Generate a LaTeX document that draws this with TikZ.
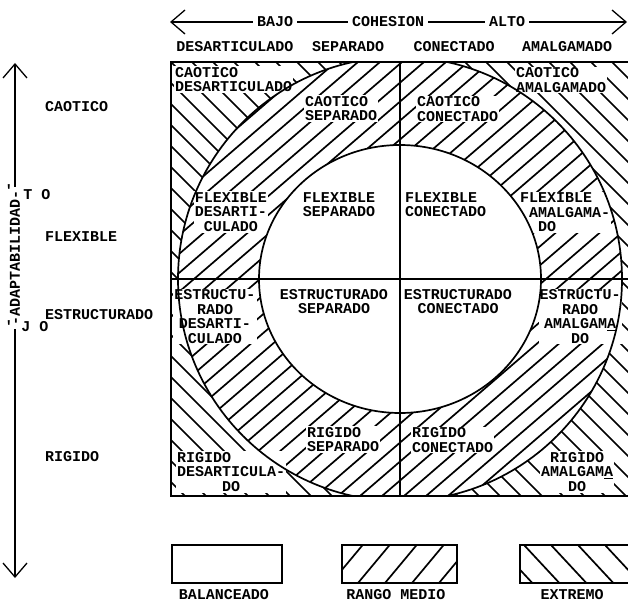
\documentclass[tikz,border=0pt]{standalone}
\usepackage{fontspec}
\newfontfamily\tw{Liberation Mono}
\usetikzlibrary{arrows.meta}
\begin{document}
\begin{tikzpicture}[x=1pt,y=-1pt,
  lbl/.style={font=\tw\bfseries\fontsize{15}{14.5}\selectfont, inner sep=1pt},
  wl/.style={lbl, fill=white},
  hatch/.style={line width=1.7pt},
  frame/.style={line width=1.7pt},
  barb/.style={line width=1.3pt, {Straight Barb[length=14pt,width=24pt]}-{Straight Barb[length=14pt,width=24pt]}}
  ]
\useasboundingbox (0,0) rectangle (628,604);

% ---- extreme region hatching (\)
\begin{scope}
  \clip (171,62) rectangle (629.5,496);
  \begin{scope}[even odd rule]
  \clip (171,62) rectangle (629.5,496) (400,279) circle[radius=222pt];
  \foreach \a in {-500,-479,...,700} \draw[hatch] (\a,0) -- ++(600,600);
  \end{scope}
\end{scope}
% ---- mid range hatching (/)
\begin{scope}
  \clip (171,62) rectangle (629.5,496);
  \begin{scope}[even odd rule]
  \clip (400,279) circle[radius=222pt] (400,279) ellipse[x radius=141pt, y radius=134pt];
  \foreach \a in {-400,-378,...,900} \draw[hatch] (\a,620) -- ++(720,-620);
  \end{scope}
\end{scope}

% ---- cell labels
\node[wl, align=left, anchor=west] (cd) at (174,79.5) {CAOTICO\\DESARTICULADO};
\node[wl, align=left, anchor=west] (cs) at (304,108.5) {CAOTICO\\SEPARADO};
\node[wl, align=left, anchor=west] (cc) at (416,109) {CAOTICO\\CONECTADO};
\node[wl, align=left, anchor=west] (ca) at (515,80) {CAOTICO\\AMALGAMADO};
\node[wl, align=center] (fd) at (231,212) {FLEXIBLE\\DESARTI-\\CULADO};
\node[lbl, align=center] (fs) at (339,204.5) {FLEXIBLE\\SEPARADO};
\node[lbl, align=left, anchor=west] (fc) at (404,204.5) {FLEXIBLE\\CONECTADO};
\node[wl, align=left, anchor=west] (fa) at (519,212.5) {FLEXIBLE\\~AMALGAMA-\\~~DO};
\node[wl, align=center] (ed) at (215,316.5) {ESTRUCTU-\\RADO\\DESARTI-\\CULADO};
\node[lbl, align=center] (es) at (334,301.5) {ESTRUCTURADO\\SEPARADO};
\node[lbl, align=center] (ec) at (458,301.5) {ESTRUCTURADO\\CONECTADO};
\node[wl, align=center] (ea) at (580,316.5) {ESTRUCTU-\\RADO\\AMALGAM\underline{A}\\DO};
\node[wl, align=left, anchor=west] (rd) at (176,472) {RIGIDO\\DESARTICULA-\\~~~~~DO};
\node[wl, align=left, anchor=west] (rs) at (306,439.5) {RIGIDO\\SEPARADO};
\node[wl, align=left, anchor=west] (rc) at (411,440) {RIGIDO\\CONECTADO};
\node[wl, align=center] (ra) at (577,472) {RIGIDO\\AMALGAM\underline{A}\\DO};

% ---- boundaries
\begin{scope}
  \clip (171,62) rectangle (629.5,496);
  \draw[frame] (400,279) circle[radius=222pt];
  \draw[frame] (400,279) ellipse[x radius=141pt, y radius=134pt];
\end{scope}
\draw[frame] (171,62) rectangle (629.5,496);
\draw[frame] (400,62) -- (400,496);
\draw[frame] (171,279) -- (629.5,279);

% ---- top axis
\coordinate (hL) at (170,22);
\coordinate (hR) at (627,22);
\draw[barb] (hL) -- (hR);
\node[wl, inner sep=4pt] (bajo) at (275,22) {BAJO};
\node[wl, inner sep=4pt] (coh) at (388,22) {COHESION};
\node[wl, inner sep=4pt] (alto) at (507,22) {ALTO};

\node[lbl] (hd) at (235,47) {DESARTICULADO};
\node[lbl] (hs) at (348,47) {SEPARADO};
\node[lbl] (hc) at (454,47) {CONECTADO};
\node[lbl] (ha) at (567,47) {AMALGAMADO};

% ---- left axis
\coordinate (vT) at (15,63);
\coordinate (vB) at (15,578);
\draw[barb] (vT) -- (vB);
\node[wl, rotate=90, inner sep=3pt] (adap) at (15,258) {-ADAPTABILIDAD-};
\node[lbl] (tk1) at (9,190) {'};
\node[lbl] (tk2) at (9,326) {'};
\node[lbl] (to) at (37,195) {T O};
\node[lbl] (jo) at (35,327) {J O};

\node[lbl, anchor=west] (rca) at (44,107) {CAOTICO};
\node[lbl, anchor=west] (rfl) at (44,237) {FLEXIBLE};
\node[lbl, anchor=west] (res) at (44,315) {ESTRUCTURADO};
\node[lbl, anchor=west] (rri) at (44,457) {RIGIDO};

% ---- legend
\draw[frame] (172,545) rectangle (282,583);
\begin{scope}
  \clip (342,545) rectangle (457,583);
  \foreach \a in {250,277,...,480} \draw[hatch] (\a,583) -- ++(40,-48);
\end{scope}
\draw[frame] (342,545) rectangle (457,583);
\begin{scope}
  \clip (520,545) rectangle (640,583);
  \foreach \a in {470,497,...,660} \draw[hatch] (\a,545) -- ++(40,43);
\end{scope}
\draw[frame] (520,545) rectangle (640,583);
\node[lbl] (lb) at (224,595) {BALANCEADO};
\node[lbl] (lm) at (396,595) {RANGO MEDIO};
\node[lbl] (le) at (572,595) {EXTREMO};
\end{tikzpicture}
\end{document}
